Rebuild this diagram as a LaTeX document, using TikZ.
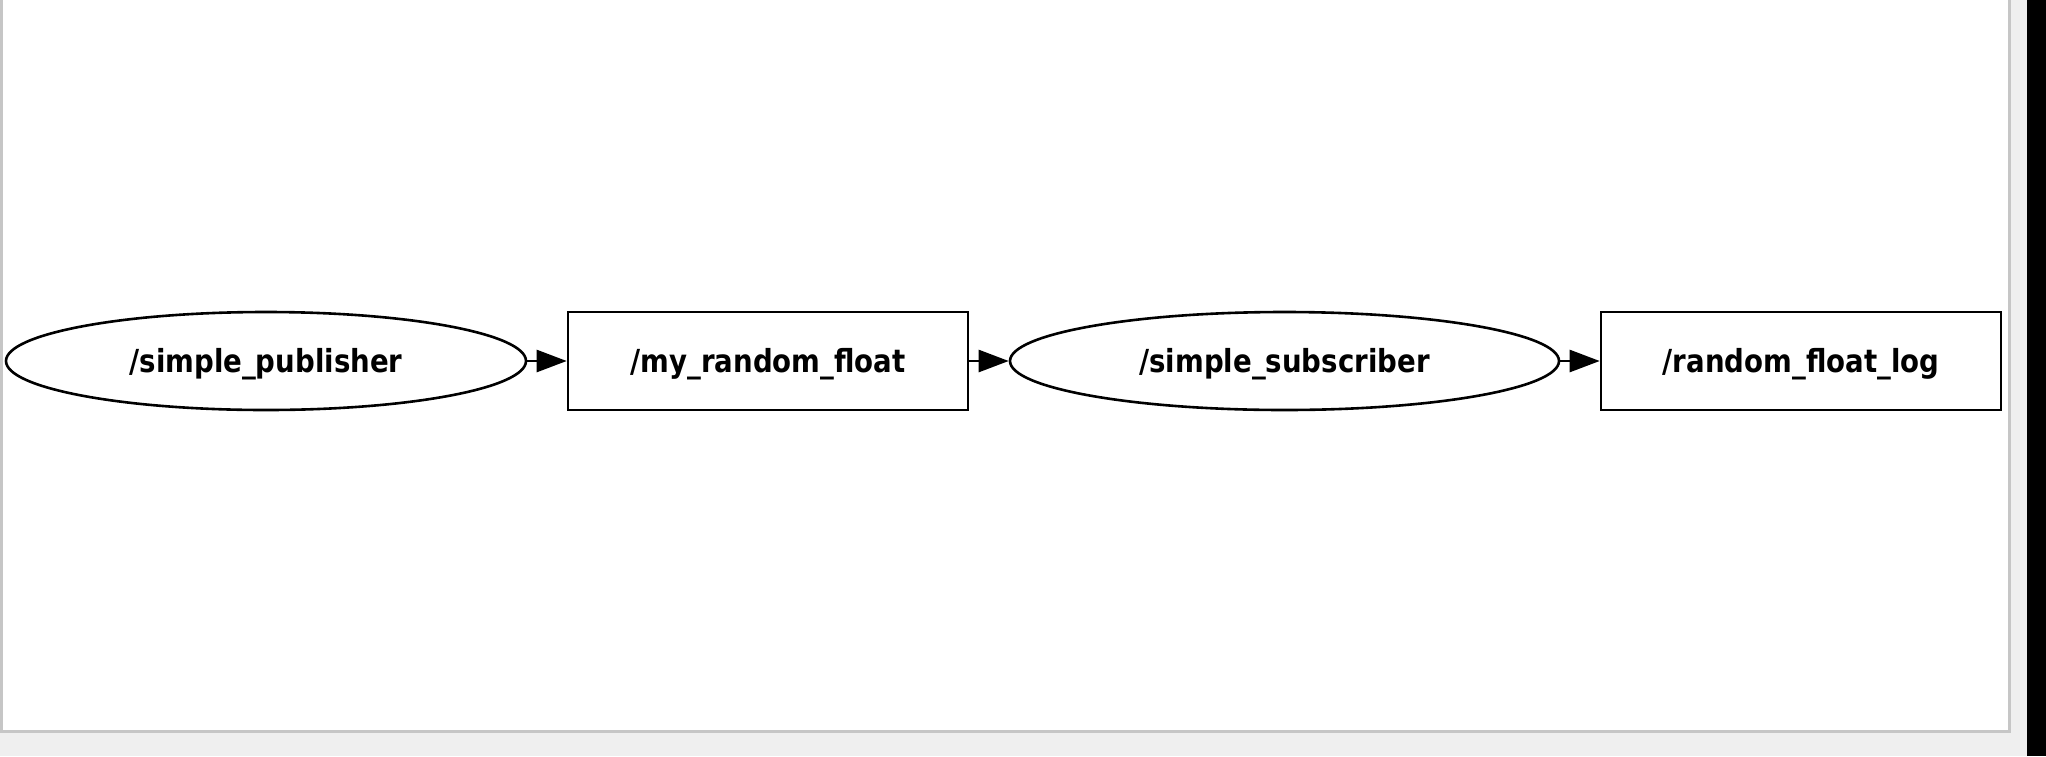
\documentclass[tikz,border=0pt]{standalone}
\usepackage{fontspec}
\usepackage{graphicx}
\setmainfont{DejaVu Sans}
\usetikzlibrary{shapes.geometric,arrows.meta}
\definecolor{bggrey}{HTML}{EFEFEF}
\definecolor{bordergrey}{HTML}{C6C6C6}
\newcommand\tallbox[1]{\scalebox{1}[1.15]{#1}}
\begin{document}
\begin{tikzpicture}[x=0.5pt,y=-0.5pt,
  lbl/.style={font=\fontsize{13.8}{16}\selectfont\bfseries,text height=12pt,text depth=0.3pt},
  nodeell/.style={ellipse,draw,line width=1.3pt,minimum height=49pt,inner sep=0pt,lbl},
  topicbox/.style={rectangle,draw,line width=1.3pt,minimum height=49pt,minimum width=200pt,inner sep=0pt,lbl},
  flow/.style={line width=1.3pt,-{Triangle[length=15pt,width=11pt]}}]
\useasboundingbox (0,0) rectangle (2046,756);
\fill[bggrey] (0,0) rectangle (2046,756);
\fill[white] (0,0) rectangle (2009,731);
\draw[bordergrey,line width=1.5pt] (1.5,0) -- (1.5,731) -- (2009,731) -- (2009,0);
\fill[black] (2027,0) rectangle (2046,756);
\node[nodeell,minimum width=260pt] (pub) at (266,361) {\tallbox{/simple\_publisher}};
\node[topicbox] (topic) at (768,361) {\tallbox{/my\_random\_float}};
\node[nodeell,minimum width=274.5pt] (sub) at (1284.5,361) {\tallbox{/simple\_subscriber}};
\node[topicbox] (log) at (1801,361) {\tallbox{/random\_float\_log}};
\draw[flow] (pub) -- (topic);
\draw[flow] (topic) -- (sub);
\draw[flow] (sub) -- (log);
\end{tikzpicture}
\end{document}
